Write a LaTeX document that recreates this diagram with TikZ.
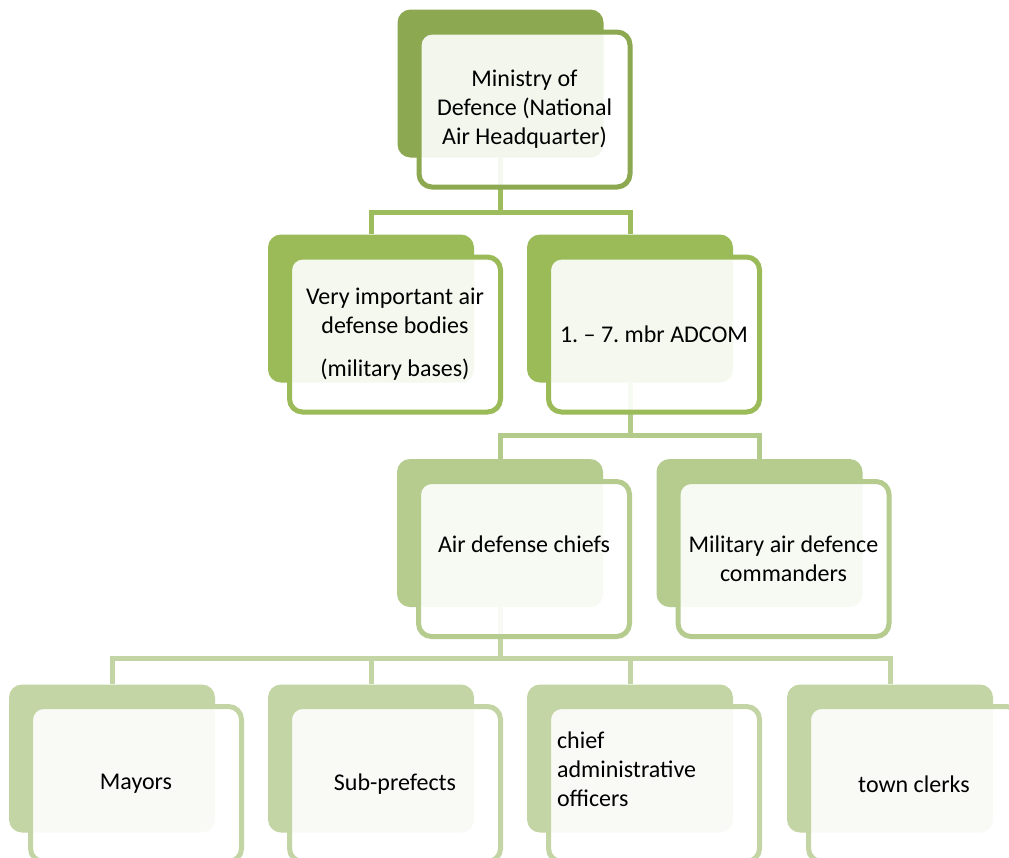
\documentclass[tikz,border=0pt]{standalone}
\usepackage{fontspec}
\setmainfont{Carlito}
\usetikzlibrary{backgrounds}
\frenchspacing
\definecolor{gA}{HTML}{8CA850}
\definecolor{gB}{HTML}{9BBB59}
\definecolor{gC}{HTML}{B5CC8E}
\definecolor{gD}{HTML}{C3D5A4}
\definecolor{cA}{HTML}{9DBC5E}
\definecolor{cB}{HTML}{B2CA8A}
\definecolor{cC}{HTML}{C3D5A4}
\begin{document}
\begin{tikzpicture}[x=1pt,y=-1pt,
  backbox/.style={rounded corners=13pt, minimum width=206pt, minimum height=148pt, inner sep=0pt, fill=#1},
  frontbox/.style={rounded corners=13pt, minimum width=211pt, minimum height=155pt, inner sep=4pt, draw=#1, line width=5pt, fill=white, fill opacity=0.9, text opacity=1, align=center, font=\fontsize{24}{29}\selectfont\frenchspacing},
  conn/.style={draw=#1, line width=5pt}]
\useasboundingbox (0,0) rectangle (1009,857);
\clip (0,0) rectangle (1009,857);

% level 1
\node[backbox=gA] (b1) at (500.5,83.5) {};
\node[frontbox=gA] (f1) at (524.5,109.5) {Ministry of\\Defence (National\\Air Headquarter)};

% level 2
\node[backbox=gB] (b2l) at (371,308.5) {};
\node[frontbox=gB] (f2l) at (395,334.5) {Very important air\\defense bodies\\[14pt](military bases)};
\node[backbox=gB] (b2r) at (630,308.5) {};
\node[frontbox=gB] (f2r) at (654,334.5) {1. -- 7. mbr ADCOM};

% level 3
\node[backbox=gC] (b3l) at (500,533) {};
\node[frontbox=gC] (f3l) at (524,559) {Air defense chiefs\\\mbox{}};
\node[backbox=gC] (b3r) at (759.5,533) {};
\node[frontbox=gC] (f3r) at (783.5,559) {Military air defence\\commanders};

% level 4
\node[backbox=gD] (b4a) at (112,758.5) {};
\node[frontbox=gD] (f4a) at (136,784) {Mayors};
\node[backbox=gD] (b4b) at (371,758.5) {};
\node[frontbox=gD] (f4b) at (395,784) {Sub-prefects};
\node[backbox=gD] (b4c) at (630,758.5) {};
\node[frontbox=gD, text width=194pt, align=left] (f4c) at (654,784) {chief\\administrative\\officers\\\mbox{}};
\node[backbox=gD] (b4d) at (890,758.5) {};
\node[frontbox=gD] (f4d) at (914,784) {town clerks};

\coordinate (j1) at (500.5,212);
\coordinate (j2) at (630,435);
\coordinate (j3) at (500,658);

\begin{pgfonlayer}{background}
\fill[white] (0,0) rectangle (1009,857);
\draw[conn=cA] (b1.south) -- (j1);
\draw[conn=cA] (b2l.north) |- (j1) -| (b2r.north);
\draw[conn=cB] (b2r.south) -- (j2);
\draw[conn=cB] (b3l.north) |- (j2) -| (b3r.north);
\draw[conn=cC] (b3l.south) -- (j3);
\draw[conn=cC] (b4a.north) |- (j3) -| (b4d.north);
\draw[conn=cC] (b4b.north) -- (b4b.north |- j3);
\draw[conn=cC] (b4c.north) -- (b4c.north |- j3);
\end{pgfonlayer}
\end{tikzpicture}
\end{document}
